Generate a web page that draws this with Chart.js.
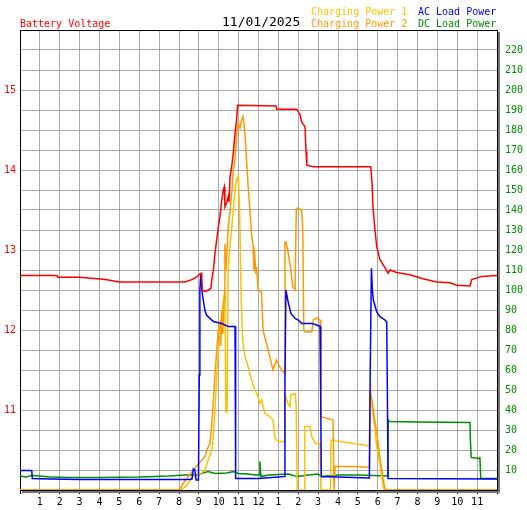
<!DOCTYPE html>
<html lang="en">
<head>
  <meta charset="UTF-8">
  <title>Battery 11/01/2025</title>
  <script src="https://cdn.jsdelivr.net/npm/chart.js"></script>
  <style>
    body { margin: 0; background: #fff; }
    #wrap { position: relative; width: 527px; height: 510px; }
  </style>
</head>
<body>
  <div id="wrap">
    <canvas id="graphic" width="527" height="510"></canvas>
  </div>

  <script>
    // hour of day (0-24) + value for each series
    const voltHours = [0, 1.86, 1.9, 3.0, 4.3, 5.0, 8.3, 8.64, 8.81, 9.06, 9.14, 9.17, 9.31, 9.47, 9.61, 9.65, 9.73, 9.81, 9.9, 9.98, 10.06, 10.15, 10.23, 10.28, 10.31, 10.4, 10.48, 10.52, 10.57, 10.65, 10.73, 10.82, 10.9, 10.95, 12.88, 12.92, 13.92, 14.09, 14.17, 14.34, 14.39, 14.43, 14.75, 17.65, 17.71, 17.76, 17.86, 17.95, 18.11, 18.36, 18.52, 18.62, 18.95, 19.62, 20.28, 20.97, 21.64, 21.97, 22.64, 22.73, 23.23, 24];
    const voltValues = [12.68, 12.68, 12.66, 12.66, 12.63, 12.6, 12.6, 12.63, 12.65, 12.7, 12.71, 12.5, 12.48, 12.5, 12.52, 12.63, 12.75, 12.96, 13.13, 13.29, 13.42, 13.62, 13.75, 13.79, 13.54, 13.59, 13.67, 13.6, 13.92, 14.04, 14.21, 14.46, 14.63, 14.81, 14.8, 14.76, 14.76, 14.69, 14.6, 14.54, 14.23, 14.06, 14.04, 14.04, 13.84, 13.54, 13.25, 13.04, 12.88, 12.78, 12.71, 12.75, 12.72, 12.69, 12.64, 12.6, 12.59, 12.56, 12.55, 12.63, 12.67, 12.68];

    const acHours = [0, 0.59, 0.62, 1.5, 3, 8.5, 8.65, 8.72, 8.8, 8.86, 8.98, 9.02, 9.05, 9.1, 9.15, 9.22, 9.3, 9.38, 9.56, 9.73, 10.15, 10.31, 10.48, 10.82, 10.85, 12, 13.0, 13.3, 13.33, 13.38, 13.47, 13.55, 13.63, 13.84, 14.0, 14.17, 14.68, 14.93, 15.1, 15.13, 15.16, 17.58, 17.62, 17.68, 17.73, 17.78, 17.95, 18.11, 18.36, 18.45, 18.47, 18.52, 24];
    const acValues = [9.7, 9.7, 5.8, 5.5, 5.3, 5.3, 5.5, 10.5, 10, 5, 5, 57.5, 100, 108.5, 100, 95, 90, 87.5, 85.8, 84.2, 83.3, 82.5, 81.7, 81.7, 5.8, 5.8, 6.5, 6.7, 53, 100, 95, 91.7, 88.3, 85.8, 85, 83.3, 83.3, 82.5, 81.7, 45, 6.7, 6, 58, 110.8, 100, 95, 89, 86.7, 85, 84, 64, 5.8, 5.5];

    const dcHours = [0, 0.3, 0.6, 1, 1.5, 2.5, 4, 6, 7.5, 8.3, 9.0, 9.14, 9.47, 9.81, 10.4, 10.73, 10.98, 11.47, 11.82, 12.03, 12.07, 12.12, 12.5, 13.5, 13.95, 14.5, 15.0, 15.16, 16, 17, 18.5, 18.53, 18.6, 20, 22.64, 22.66, 22.7, 23.1, 23.14, 23.18, 24];
    const dcValues = [7, 6.5, 7.3, 7, 6.5, 6.3, 6.3, 6.5, 7, 7.5, 7.5, 8.3, 9.2, 8.3, 8.5, 9.2, 8.3, 8, 7.5, 7.5, 14.2, 6.7, 7.5, 8, 6.7, 7.5, 8, 6.7, 7.5, 7.5, 7, 35, 34.2, 34, 33.7, 25, 16.3, 15.8, 16.5, 5.8, 5.8];

    const cp1Hours = [0, 8.05, 8.33, 8.72, 9.06, 9.31, 9.47, 9.65, 9.73, 9.81, 9.9, 9.98, 10.06, 10.15, 10.23, 10.31, 10.36, 10.42, 10.47, 10.57, 10.65, 10.73, 10.82, 10.9, 10.98, 11.05, 11.12, 11.2, 11.32, 11.48, 11.65, 11.82, 11.98, 12.07, 12.15, 12.32, 12.57, 12.73, 12.82, 12.9, 13.06, 13.3, 13.33, 13.47, 13.58, 13.63, 13.84, 13.89, 13.95, 14.3, 14.33, 14.59, 14.68, 14.85, 15.1, 15.14, 15.62, 15.65, 17.58, 17.62, 17.71, 17.86, 17.95, 18.11, 18.2, 18.28, 18.33, 24];
    const cp1Values = [0, 0, 1.7, 6.7, 8, 10, 15, 20, 27, 40, 57, 70, 77, 83, 95, 100, 39, 39, 110, 123, 130, 140, 150, 155, 157, 140, 100, 75, 66.7, 61.7, 55, 50, 46.7, 43.3, 45, 38.3, 36.7, 35, 26.7, 25, 24.2, 24.2, 48.3, 43.3, 41.7, 47.5, 48.3, 43.3, 0, 0, 31.7, 31.7, 26.7, 23.3, 23.3, 0, 0, 25, 22, 48, 41.7, 30, 21.7, 13.3, 6.7, 1.7, 0, 0];

    const cp2Hours = [0, 8.0, 8.33, 8.72, 9.06, 9.31, 9.4, 9.56, 9.65, 9.73, 9.81, 9.9, 9.98, 10.06, 10.1, 10.15, 10.2, 10.27, 10.31, 10.36, 10.48, 10.57, 10.65, 10.73, 10.82, 10.9, 10.98, 11.07, 11.15, 11.23, 11.32, 11.4, 11.48, 11.57, 11.65, 11.73, 11.77, 11.8, 11.86, 11.9, 11.98, 12.15, 12.23, 12.4, 12.57, 12.73, 12.9, 13.06, 13.3, 13.33, 13.38, 13.47, 13.63, 13.72, 13.84, 13.9, 13.95, 14.17, 14.23, 14.28, 14.36, 14.68, 14.76, 14.93, 15.1, 15.14, 15.43, 15.75, 15.8, 15.85, 17.0, 17.58, 17.62, 17.71, 17.8, 17.9, 18.0, 18.1, 18.2, 18.28, 18.36, 18.4, 24];
    const cp2Values = [0, 0, 5, 10, 14, 16.7, 20, 23.3, 33.3, 45, 58.3, 70, 80, 83.3, 72, 90, 78, 95, 123, 110, 131.7, 140, 148, 160, 165, 178, 183.3, 181, 185, 186.7, 178, 165, 151.7, 140, 128, 121.7, 110, 120, 108, 111.7, 100, 99, 80, 73.3, 66.7, 60, 65, 61.7, 58.3, 124, 124, 120, 110, 101.7, 100, 140, 141, 140, 130, 80, 79, 79, 85, 86, 85, 36.7, 35.8, 35, 0, 11.7, 11.7, 11.3, 50, 45, 38.3, 31.7, 25, 16.7, 10, 5, 0.8, 0, 0];

    const hourLabels = ['', '1', '2', '3', '4', '5', '6', '7', '8', '9', '10', '11', '12', '1', '2', '3', '4', '5', '6', '7', '8', '9', '10', '11', ''];
    const voltLabels = [11, 12, 13, 14, 15];

    const RED = '#ff0000', BLUE = '#0000ff', GREEN = '#008c00', GOLD = '#ffc000', ORANGE = '#ff9900';
    const MONO = '"DejaVu Sans Mono", monospace';

    function toPoints(hours, values) {
      return hours.map((h, i) => ({ x: h, y: values[i] }));
    }

    function serie(label, color, axis, hours, values) {
      return {
        label: label,
        data: toPoints(hours, values),
        borderColor: color,
        backgroundColor: color,
        borderWidth: 1.5,
        pointRadius: 0,
        tension: 0,
        yAxisID: axis
      };
    }

    // frame under the lines, shadow + header texts on top
    const decor = {
      id: 'decor',
      beforeDatasetsDraw(chart) {
        const ctx = chart.ctx;
        const a = chart.chartArea;
        ctx.save();
        ctx.strokeStyle = '#000';
        ctx.lineWidth = 1;
        ctx.strokeRect(a.left + 0.5, a.top + 0.5, a.right - a.left, a.bottom - a.top);
        ctx.restore();
      },
      afterDraw(chart) {
        const ctx = chart.ctx;
        const a = chart.chartArea;
        ctx.save();
        ctx.fillStyle = '#777';
        ctx.fillRect(a.right + 1, a.top + 2, 2, a.bottom - a.top + 1);
        ctx.fillRect(a.left + 2, a.bottom + 1, a.right - a.left + 1, 2);

        const ds = chart.data.datasets;
        ctx.textBaseline = 'alphabetic';
        ctx.textAlign = 'left';
        ctx.font = '10px ' + MONO;
        ctx.fillStyle = RED;
        ctx.fillText(ds[0].label, 20, 26.5);
        ctx.fillStyle = GOLD;
        ctx.fillText(ds[3].label, 311, 14.7);
        ctx.fillStyle = ORANGE;
        ctx.fillText(ds[2].label, 311, 26.7);
        ctx.fillStyle = BLUE;
        ctx.fillText(ds[1].label, 418, 14.7);
        ctx.fillStyle = GREEN;
        ctx.fillText(ds[4].label, 418, 26.7);
        ctx.font = '13px ' + MONO;
        ctx.fillStyle = '#000';
        ctx.fillText('11/01/2025', 222, 25.7);
        ctx.restore();
      }
    };

    const grafico = new Chart(document.getElementById('graphic'), {
      type: 'line',
      data: {
        datasets: [
          serie('Battery Voltage', RED, 'yV', voltHours, voltValues),
          serie('AC Load Power', BLUE, 'yP', acHours, acValues),
          serie('Charging Power 2', ORANGE, 'yP', cp2Hours, cp2Values),
          serie('Charging Power 1', GOLD, 'yP', cp1Hours, cp1Values),
          serie('DC Load Power', GREEN, 'yP', dcHours, dcValues)
        ]
      },
      options: {
        responsive: false,
        animation: false,
        layout: { padding: { top: 30, left: 0, right: 0, bottom: 0 } },
        plugins: {
          legend: { display: false },
          tooltip: { enabled: false }
        },
        scales: {
          x: {
            type: 'linear',
            min: 0,
            max: 24,
            afterFit: s => { s.height = 20; },
            grid: { color: '#aaaaaa', tickColor: '#000', tickLength: 4 },
            border: { display: false },
            ticks: {
              stepSize: 1,
              maxTicksLimit: 100,
              autoSkip: false,
              maxRotation: 0,
              padding: 2,
              color: '#000',
              font: { family: MONO, size: 10 },
              callback: v => hourLabels[v] ?? ''
            }
          },
          yV: {
            type: 'linear',
            position: 'left',
            min: 10,
            max: 15.75,
            afterFit: s => { s.width = 20; },
            grid: { color: '#aaaaaa', drawTicks: false },
            border: { display: false },
            ticks: {
              stepSize: 0.25,
              maxTicksLimit: 100,
              autoSkip: false,
              padding: 4,
              color: RED,
              font: { family: MONO, size: 10 },
              callback: v => voltLabels.includes(v) ? String(v) : ''
            }
          },
          yP: {
            type: 'linear',
            position: 'right',
            min: 0,
            max: 230,
            afterFit: s => { s.width = 30; },
            grid: { display: false, drawTicks: false },
            border: { display: false },
            ticks: {
              stepSize: 10,
              maxTicksLimit: 100,
              autoSkip: false,
              padding: 8,
              color: GREEN,
              font: { family: MONO, size: 10 },
              callback: v => (v > 0 && v < 230) ? String(v) : ''
            }
          }
        }
      },
      plugins: [decor]
    });
  </script>
</body>
</html>
